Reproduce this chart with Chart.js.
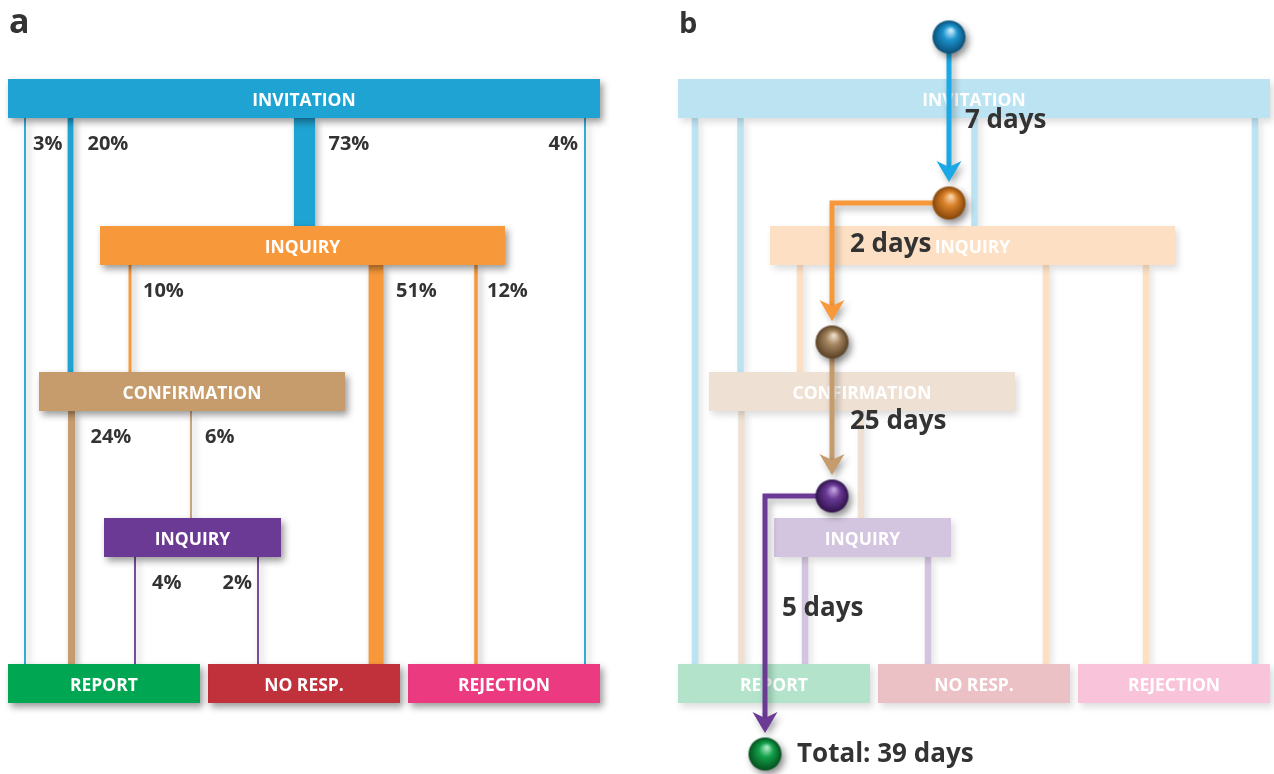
<!DOCTYPE html>
<html>
<head>
<meta charset="utf-8">
<script src="https://cdn.jsdelivr.net/npm/chart.js@4.4.1/dist/chart.umd.min.js"></script>
<style>
html, body { margin: 0; padding: 0; background: #fff; }
canvas { display: block; }
</style>
</head>
<body>
<canvas id="flow" width="1274" height="774"></canvas>
<script>
// stages (the two INQUIRY boxes are different steps)
const stageNames = ['INVITATION', 'INQUIRY', 'CONFIRMATION', 'INQUIRY', 'REPORT', 'NO RESP.', 'REJECTION'];

// flows between stages, in % of all invitations
const flowFrom = [0, 0, 0, 0, 1, 1, 1, 2, 2, 3, 3];
const flowTo   = [4, 2, 1, 6, 2, 5, 6, 4, 3, 4, 5];
const flowPct  = [3, 20, 73, 4, 10, 51, 12, 24, 6, 4, 2];

// time along the main path (panel b)
const pathDays = [7, 2, 25, 5];
const totalDays = 39;

// ---- layout (chart units, 1 unit = 1 px) ----
const stageColors = ['#1ea3d3', '#f7983a', '#c69c6d', '#6b3a94', '#00a651', '#c1313c', '#ec3a81'];
const boxLeft  = [8, 100, 39, 104, 8, 208, 408];
const boxRight = [600, 505, 345, 281, 200, 400, 600];
const boxTop   = [79, 226, 372, 518, 664, 664, 664];
const boxH = 39;
const flowX    = [25, 70.5, 304.5, 585, 130, 376, 476, 71.5, 191, 135, 258];
const labelDx  = [8, 17, 24, -7, 13, 20, 11, 19, 14, 17, -6];
const panelB = 670;

// spheres + arrows of panel b (panel a coords, shifted by panelB)
const sphereX = [279, 279, 162, 162, 95];
const sphereY = [37, 203, 342, 496, 754];
const sphereCol = [
  ['#c4ebfc', '#1c93cd', '#0a4f78'],
  ['#fad3a6', '#d9812a', '#864609'],
  ['#eadac6', '#a4845f', '#5a4126'],
  ['#bf9fdc', '#6a3996', '#30124c'],
  ['#a6eabf', '#13a04a', '#04501e']
];
const arrowCol = ['#1aa9e6', '#f7983a', '#c69c6d', '#6b3a94'];
const dayLabelX = [295, 180, 180, 112];
const dayLabelY = [121, 245, 422, 609];

function pale(hex) {
  const n = parseInt(hex.slice(1), 16);
  const m = v => Math.round(v * 0.3 + 255 * 0.7);
  return `rgb(${m(n >> 16)}, ${m((n >> 8) & 255)}, ${m(n & 255)})`;
}

function sphere(light, base, dark, r) {
  const c = document.createElement('canvas');
  c.width = c.height = 2 * r + 2;
  const g = c.getContext('2d');
  const cx = r + 1, cy = r + 1;
  const grad = g.createRadialGradient(cx + 2, cy - r * 0.4, 1, cx, cy, r);
  grad.addColorStop(0, light);
  grad.addColorStop(0.4, base);
  grad.addColorStop(1, dark);
  g.fillStyle = grad;
  g.beginPath();
  g.arc(cx, cy, r, 0, Math.PI * 2);
  g.fill();
  return c;
}

function arrowHead(color) {
  const c = document.createElement('canvas');
  c.width = 26; c.height = 22;
  const g = c.getContext('2d');
  g.fillStyle = color;
  g.beginPath();
  g.moveTo(13, 22); g.lineTo(25.5, 1); g.lineTo(13, 7); g.lineTo(0.5, 1);
  g.closePath();
  g.fill();
  return c;
}

const datasets = [];
const lineBase = { showLine: true, pointRadius: 0, borderCapStyle: 'butt', borderJoinStyle: 'miter', clip: false };

[0, panelB].forEach((off, p) => {
  // links
  flowPct.forEach((pct, i) => {
    const col = stageColors[flowFrom[i]];
    datasets.push(Object.assign({}, lineBase, {
      kind: 'link', order: 5,
      borderColor: p ? pale(col) : col,
      borderWidth: p ? 6.5 : Math.max(1.8, pct * 0.29),
      shadow: p ? 'rgba(0,0,0,0.12)' : 'rgba(0,0,0,0.3)',
      data: [{ x: flowX[i] + off, y: boxTop[flowFrom[i]] + boxH }, { x: flowX[i] + off, y: boxTop[flowTo[i]] }]
    }));
  });
  // boxes
  stageNames.forEach((name, s) => {
    const yc = boxTop[s] + boxH / 2;
    datasets.push(Object.assign({}, lineBase, {
      kind: 'box', order: 4, label: name,
      borderColor: p ? pale(stageColors[s]) : stageColors[s],
      borderWidth: boxH,
      shadow: p ? 'rgba(0,0,0,0.14)' : 'rgba(0,0,0,0.4)',
      data: [{ x: boxLeft[s] + off, y: yc }, { x: boxRight[s] + off, y: yc }]
    }));
  });
});

// arrows between spheres (panel b)
pathDays.forEach((d, i) => {
  const tip = sphereY[i + 1] - 21;
  datasets.push(Object.assign({}, lineBase, {
    kind: 'arrow', order: 3,
    borderColor: arrowCol[i], borderWidth: 5,
    shadow: 'rgba(0,0,0,0.3)',
    data: [
      { x: sphereX[i] + panelB, y: sphereY[i] },
      { x: sphereX[i + 1] + panelB, y: sphereY[i] },
      { x: sphereX[i + 1] + panelB, y: tip - 12 }
    ]
  }));
  datasets.push({
    kind: 'head', order: 2, showLine: false, clip: false,
    pointStyle: arrowHead(arrowCol[i]), pointRadius: 12,
    shadow: 'rgba(0,0,0,0.3)',
    data: [{ x: sphereX[i + 1] + panelB, y: tip - 11 }]
  });
});

sphereX.forEach((x, i) => {
  datasets.push({
    kind: 'sphere', order: 1, showLine: false, clip: false,
    pointStyle: sphere(sphereCol[i][0], sphereCol[i][1], sphereCol[i][2], 16.5), pointRadius: 17,
    shadow: 'rgba(0,0,0,0.45)',
    data: [{ x: x + panelB, y: sphereY[i] }]
  });
});

function text(c, str, x, y, font, color, align) {
  c.font = font;
  c.fillStyle = color;
  c.textAlign = align || 'left';
  c.textBaseline = 'middle';
  c.fillText(str, x, y);
}

const shadowPlugin = {
  id: 'shadow',
  beforeDatasetDraw(chart, args) {
    const ds = chart.data.datasets[args.index];
    const c = chart.ctx;
    c.save();
    if (ds.shadow) {
      c.shadowColor = ds.shadow;
      c.shadowBlur = 7;
      c.shadowOffsetX = 3;
      c.shadowOffsetY = 4;
    }
  },
  afterDatasetDraw(chart, args) {
    const ds = chart.data.datasets[args.index];
    const c = chart.ctx;
    c.restore();
    if (ds.kind === 'box') {
      const xs = chart.scales.x, ys = chart.scales.y;
      const x = (xs.getPixelForValue(ds.data[0].x) + xs.getPixelForValue(ds.data[1].x)) / 2;
      text(c, ds.label, x, ys.getPixelForValue(ds.data[0].y) + 2.5, 'bold 17.5px "Open Sans"', '#fff', 'center');
    }
  }
};

const labelPlugin = {
  id: 'labels',
  afterDatasetsDraw(chart) {
    const c = chart.ctx;
    const xs = chart.scales.x, ys = chart.scales.y;
    const px = v => xs.getPixelForValue(v), py = v => ys.getPixelForValue(v);
    c.save();
    // percentages (panel a)
    flowPct.forEach((pct, i) => {
      const dx = labelDx[i];
      text(c, pct + '%', px(flowX[i] + dx), py(boxTop[flowFrom[i]] + boxH + 26),
        'bold 20px "Open Sans"', '#333', dx < 0 ? 'right' : 'left');
    });
    // days (panel b)
    pathDays.forEach((d, i) => {
      text(c, d + ' days', px(dayLabelX[i] + panelB), py(dayLabelY[i]), 'bold 26px "Open Sans"', '#333');
    });
    const last = sphereX.length - 1;
    text(c, 'Total: ' + totalDays + ' days', px(sphereX[last] + 32 + panelB), py(sphereY[last] + 1), 'bold 26px "Open Sans"', '#333');
    // panel letters
    c.textBaseline = 'alphabetic';
    c.font = 'bold 34px "Open Sans"';
    c.fillText('a', px(9), py(33));
    c.font = 'bold 29px "Open Sans"';
    c.fillText('b', px(9 + panelB), py(33));
    c.restore();
  }
};

new Chart(document.getElementById('flow'), {
  type: 'scatter',
  data: { datasets },
  options: {
    responsive: false,
    animation: false,
    devicePixelRatio: 1,
    events: [],
    layout: { padding: 0, autoPadding: false },
    scales: {
      x: { type: 'linear', min: 0, max: 1274, display: false },
      y: { type: 'linear', min: 0, max: 774, reverse: true, display: false }
    },
    plugins: { legend: { display: false }, tooltip: { enabled: false } }
  },
  plugins: [shadowPlugin, labelPlugin]
});
</script>
</body>
</html>
